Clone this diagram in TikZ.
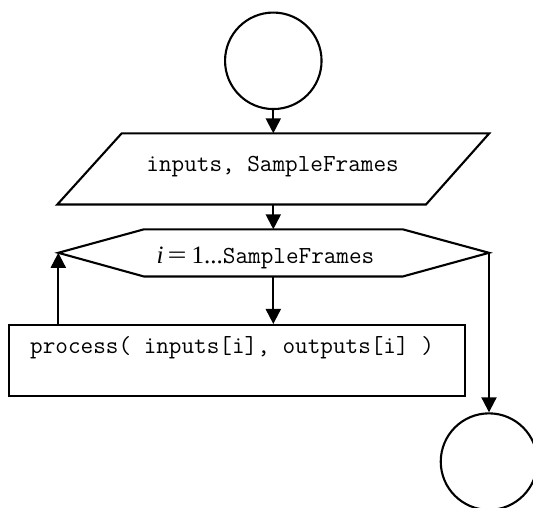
\documentclass[tikz,border=0pt]{standalone}
\usepackage{fontspec}
\newfontfamily\serifface{Liberation Serif}
\usetikzlibrary{arrows.meta}

\tikzset{
  outline/.style={draw=black, line width=2.1pt, line join=miter},
  terminal/.style={outline, circle, minimum size=96.5pt, inner sep=0pt},
  arr/.style={draw=black, line width=2.1pt, -{Triangle[length=15pt,width=15pt]}},
  codetext/.style={inner sep=0pt, font=\ttfamily\fontsize{24.5}{28}\selectfont},
}

\begin{document}
\begin{tikzpicture}[x=1pt,y=-1pt]
  \useasboundingbox (0,0) rectangle (533,507);
  \clip (0,0) rectangle (533,507);

  % start and end terminals
  \node[terminal] (start) at (273.3,60.8) {};
  \node[terminal] (stop) at (489,461.6) {};

  % input parallelogram
  \coordinate (inTL) at (121.7,133.3);
  \coordinate (inTR) at (489.3,133.3);
  \coordinate (inBR) at (426,204.5);
  \coordinate (inBL) at (57.3,204.5);
  \draw[outline] (inTL) -- (inTR) -- (inBR) -- (inBL) -- cycle;
  \coordinate (inTop) at (273.3,133.3);
  \coordinate (inBot) at (273.3,204.5);
  \node[codetext, anchor=base] (inText) at (272.6,171) {inputs, SampleFrames};

  % loop hexagon
  \coordinate (hexL) at (58.3,252.8);
  \coordinate (hexTL) at (144,229.3);
  \coordinate (hexTR) at (402.7,229.3);
  \coordinate (hexR) at (489,252.8);
  \coordinate (hexBR) at (402.7,276.5);
  \coordinate (hexBL) at (144,276.5);
  \draw[outline] (hexL) -- (hexTL) -- (hexTR) -- (hexR) -- (hexBR) -- (hexBL) -- cycle;
  \coordinate (hexTop) at (273.3,229.3);
  \coordinate (hexBot) at (273.3,276.5);
  \node[inner sep=0pt, anchor=base west] (loopText) at (156.5,263.3)
    {\serifface\fontsize{25}{30}\selectfont\textit{i}\hspace{4pt}\scalebox{1.35}[1]{=}\hspace{5pt}1...%
     \ttfamily\fontsize{24.5}{28}\selectfont SampleFrames};

  % loop body
  \node[outline, rectangle, minimum width=455.7pt, minimum height=71pt, inner sep=0pt]
    (proc) at (237.2,360.5) {};
  \node[codetext, anchor=base west] (procText) at (30,353.3) {process( inputs[i], outputs[i] )};

  % connectors
  \draw[arr] (start.south) -- (inTop);
  \draw[arr] (inBot) -- (hexTop);
  \draw[arr] (hexBot) -- (proc.north -| hexBot);
  \draw[arr] (hexL |- proc.north) -- (hexL);
  \draw[arr] (hexR) -- (stop.north);
\end{tikzpicture}
\end{document}
